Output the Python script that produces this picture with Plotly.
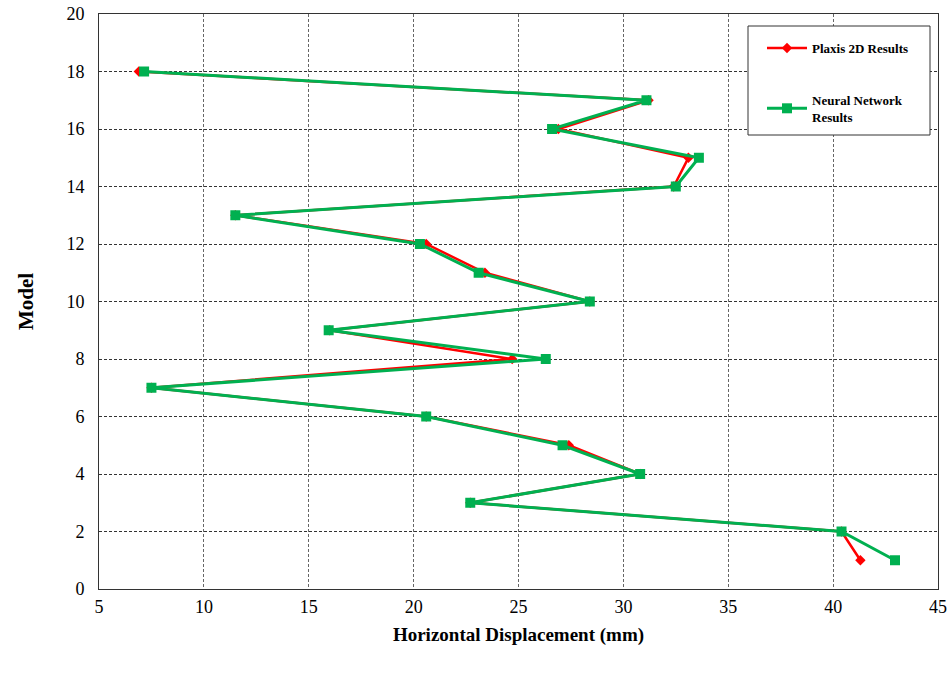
import plotly.graph_objects as go

models = [18, 17, 16, 15, 14, 13, 12, 11, 10, 9, 8, 7, 6, 5, 4, 3, 2, 1]
plaxis = [6.9, 31.2, 26.9, 33.1, 32.4, 11.5, 20.6, 23.4, 28.4, 16.0, 24.7, 7.5, 20.6, 27.4, 30.8, 22.7, 40.4, 41.3]
neural = [7.15, 31.1, 26.6, 33.6, 32.5, 11.5, 20.3, 23.1, 28.4, 15.95, 26.3, 7.5, 20.6, 27.1, 30.8, 22.7, 40.4, 42.95]

x_ticks = [5, 10, 15, 20, 25, 30, 35, 40, 45]
y_ticks = [0, 2, 4, 6, 8, 10, 12, 14, 16, 18, 20]

FONT = "Liberation Serif"

fig = go.Figure()
fig.add_trace(go.Scatter(
    x=plaxis, y=models, mode="lines+markers", name="Plaxis 2D Results",
    line=dict(color="#ff0000", width=2.5),
    marker=dict(symbol="diamond", size=8, color="#ff0000"),
    legendgroup="a",
))
fig.add_trace(go.Scatter(
    x=neural, y=models, mode="lines+markers", name="Neural Network<br>Results",
    line=dict(color="#00b050", width=3),
    marker=dict(symbol="square", size=10, color="#00b050"),
    legendgroup="b",
))

axis_common = dict(
    showline=True, linecolor="#333333", linewidth=1, mirror=True,
    showgrid=True, griddash="3px,2px", gridwidth=1,
    zeroline=False, ticks="", tickfont=dict(family=FONT, size=18, color="black"),
    automargin=False, ticklabeloverflow="allow",
)

fig.update_xaxes(range=[5, 45], tickvals=x_ticks, ticktext=[str(v) for v in x_ticks],
                 gridcolor="#666666",
                 title=dict(text="<b>Horizontal Displacement (mm)</b>",
                            font=dict(family=FONT, size=19, color="black"), standoff=12),
                 ticklabelstandoff=1, **axis_common)
fig.update_yaxes(range=[0, 20], tickvals=y_ticks, ticktext=[str(v) for v in y_ticks],
                 gridcolor="#333333",
                 title=dict(text="<b>Model</b>",
                            font=dict(family=FONT, size=21, color="black"), standoff=27),
                 ticklabelstandoff=10, **axis_common)

fig.add_shape(type="rect", xref="paper", yref="paper",
              x0=(748 - 99) / 839, x1=(930 - 99) / 839,
              y0=(589 - 135) / 575, y1=(589 - 26) / 575,
              line=dict(color="#333333", width=1), fillcolor="white", layer="above")

fig.update_layout(
    width=951, height=676,
    margin=dict(l=99, r=13, t=14, b=87),
    paper_bgcolor="white", plot_bgcolor="white",
    showlegend=True,
    legend=dict(x=(762 - 99) / 839, y=(589 - 33) / 575, xanchor="left", yanchor="top",
                bgcolor="rgba(0,0,0,0)", borderwidth=0,
                font=dict(family=FONT, size=13, color="black", weight="bold"),
                itemwidth=40, tracegroupgap=32),
)

fig.write_html("out.html", config={"displayModeBar": False},
               post_script="document.body.style.margin='0';")
